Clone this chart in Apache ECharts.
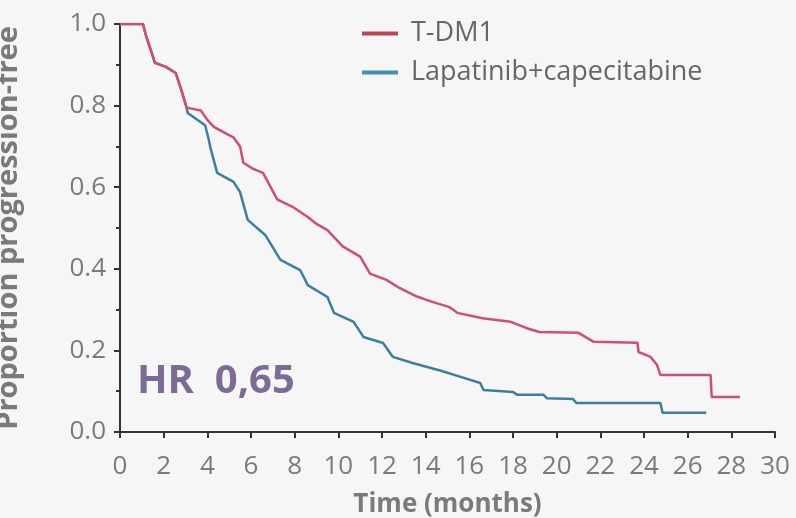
<!DOCTYPE html>
<html>
<head>
<meta charset="utf-8">
<script src="https://cdn.jsdelivr.net/npm/echarts@6/dist/echarts.min.js"></script>
<style>html,body{margin:0;padding:0;background:#f6f6f6;}#c{width:796px;height:518px;}</style>
</head>
<body>
<div id="c"></div>
<script>
const seriesNames = ['T-DM1', 'Lapatinib+capecitabine'];
const xTicks = [0,2,4,6,8,10,12,14,16,18,20,22,24,26,28,30];
const yTicks = [0.0,0.2,0.4,0.6,0.8,1.0];

// [months, proportion progression-free]
const tdm1 = [[0,1],[1.05,1],[1.2,0.97],[1.45,0.93],[1.6,0.905],[2.1,0.895],[2.55,0.88],[2.8,0.84],[3.05,0.795],
  [3.7,0.788],[4.0,0.765],[4.3,0.748],[4.9,0.73],[5.2,0.722],[5.5,0.7],[5.65,0.66],[6.1,0.645],[6.55,0.635],
  [6.9,0.6],[7.2,0.57],[7.9,0.552],[8.6,0.527],[9.0,0.51],[9.5,0.495],[10.2,0.455],[11.0,0.43],[11.45,0.388],
  [12.2,0.373],[12.8,0.353],[13.6,0.332],[14.3,0.319],[15.1,0.306],[15.45,0.292],[16.6,0.279],[17.9,0.27],
  [18.6,0.255],[19.2,0.245],[21.0,0.243],[21.7,0.221],[23.7,0.219],[23.75,0.196],[24.3,0.184],[24.6,0.164],
  [24.75,0.14],[27.05,0.14],[27.1,0.086],[28.4,0.086]];

const lapcap = [[0,1],[1.05,1],[1.2,0.97],[1.45,0.93],[1.6,0.905],[2.1,0.895],[2.55,0.88],[2.8,0.84],[3.05,0.795],
  [3.1,0.782],[3.9,0.752],[4.05,0.72],[4.15,0.695],[4.45,0.635],[5.2,0.613],[5.5,0.588],[5.85,0.52],[6.65,0.483],
  [7.35,0.422],[8.25,0.397],[8.6,0.36],[9.5,0.331],[9.8,0.292],[10.7,0.27],[11.15,0.233],[12.05,0.218],[12.5,0.184],
  [13.4,0.169],[14.7,0.15],[15.6,0.135],[16.5,0.12],[16.65,0.103],[18.0,0.098],[18.2,0.091],[19.4,0.091],
  [19.55,0.083],[20.75,0.081],[20.9,0.071],[24.75,0.071],[24.85,0.047],[26.85,0.047]];

const chart = echarts.init(document.getElementById('c'));
const axisColor = '#333';
const labelColor = '#7a7a7a';
chart.setOption({
  backgroundColor: '#f6f6f6',
  animation: false,
  grid: { left: 120, right: 21, top: 24, bottom: 86, containLabel: false, outerBoundsMode: 'none' },
  legend: {
    data: seriesNames,
    orient: 'vertical',
    left: 357, top: 15,
    icon: 'rect', itemWidth: 36, itemHeight: 4, itemGap: 12,
    textStyle: { color: '#666', fontSize: 27, fontFamily: 'Open Sans', padding: [0,0,0,8] }
  },
  xAxis: {
    type: 'value', min: 0, max: 30, interval: 2,
    name: 'Time (months)', nameLocation: 'middle', nameGap: 60,
    nameTextStyle: { color: labelColor, fontSize: 26, fontWeight: 'bold', fontFamily: 'Open Sans' },
    axisLine: { show: true, lineStyle: { color: axisColor, width: 2 } },
    axisTick: { show: true, length: 6, lineStyle: { color: axisColor, width: 2 } },
    axisLabel: { color: labelColor, fontSize: 26, margin: 22, fontFamily: 'Open Sans',
      customValues: xTicks, formatter: v => String(v) },
    splitLine: { show: false }
  },
  yAxis: {
    type: 'value', min: 0, max: 1, interval: 0.2,
    name: 'Proportion progression-free', nameLocation: 'middle', nameGap: 97,
    nameTextStyle: { color: labelColor, fontSize: 29, fontWeight: 'bold', fontFamily: 'Open Sans' },
    axisLine: { show: true, lineStyle: { color: axisColor, width: 2 } },
    axisTick: { show: true, length: 6, lineStyle: { color: axisColor, width: 2 } },
    minorTick: { show: true, splitNumber: 2, length: 4, lineStyle: { color: axisColor, width: 2 } },
    axisLabel: { color: labelColor, fontSize: 26, margin: 14, fontFamily: 'Open Sans',
      formatter: v => yTicks.find(t => Math.abs(t - v) < 1e-6) !== undefined ? v.toFixed(1) : '' },
    splitLine: { show: false }
  },
  series: [
    { name: seriesNames[0], type: 'line', data: tdm1, symbol: 'none', z: 3,
      color: '#b8454f', lineStyle: { color: '#d24d74', width: 2.5 } },
    { name: seriesNames[1], type: 'line', data: lapcap, symbol: 'none', z: 2,
      color: '#3e8fb5', lineStyle: { color: '#3c7f9c', width: 2.5 } }
  ],
  graphic: [
    { type: 'text', left: 137, top: 362, z: 10,
      style: { text: 'HR  0,65', fill: '#7c6b95', fontSize: 40, fontWeight: 'bold', fontFamily: 'Open Sans' } }
  ]
});
</script>
</body>
</html>
